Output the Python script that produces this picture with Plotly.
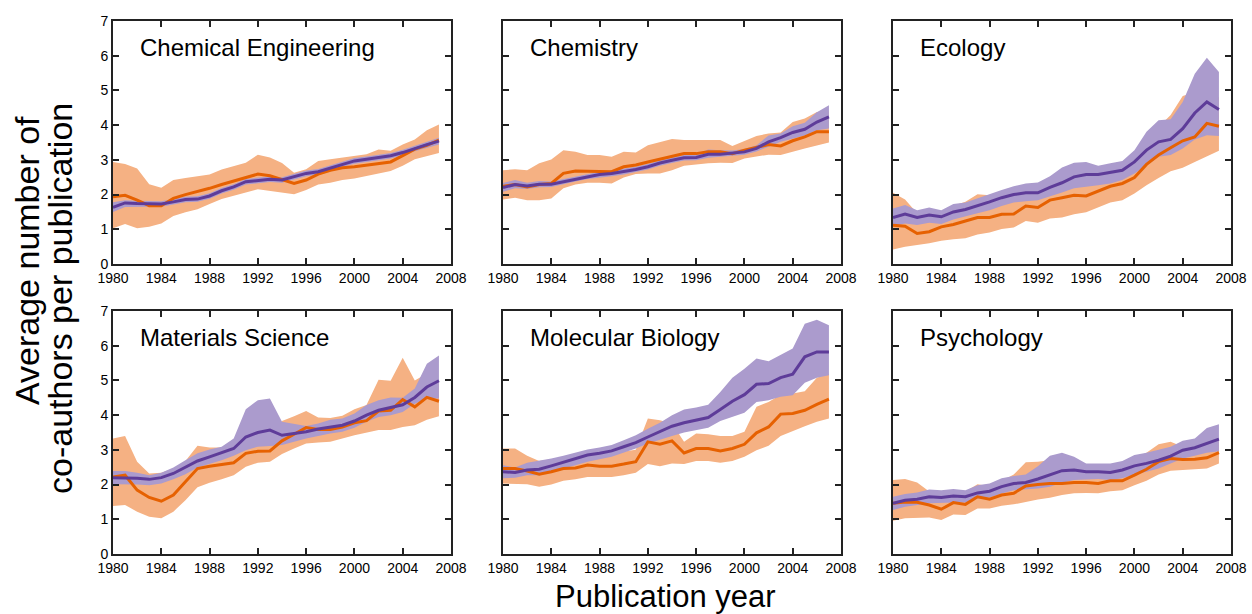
import plotly.graph_objects as go

years = list(range(1980, 2008))
x_ticks = [1980, 1984, 1988, 1992, 1996, 2000, 2004, 2008]
y_ticks = [0, 1, 2, 3, 4, 5, 6, 7]

fields = ["Chemical Engineering", "Chemistry", "Ecology",
          "Materials Science", "Molecular Biology", "Psychology"]

# --- Chemical Engineering ---
chemeng_s1 = [1.94, 1.98, 1.84, 1.68, 1.68, 1.89, 2.00, 2.08, 2.18, 2.29, 2.39, 2.48, 2.59, 2.54,
              2.44, 2.32, 2.42, 2.59, 2.70, 2.77, 2.80, 2.85, 2.90, 2.94, 3.12, 3.31, 3.42, 3.57]
chemeng_s1_hi = [2.94, 2.88, 2.75, 2.30, 2.20, 2.42, 2.48, 2.53, 2.58, 2.72, 2.83, 2.92, 3.15, 3.07,
                 2.91, 2.63, 2.73, 2.97, 3.02, 3.07, 3.12, 3.16, 3.30, 3.26, 3.44, 3.59, 3.85, 4.02]
chemeng_s1_lo = [1.03, 1.15, 1.03, 1.07, 1.17, 1.38, 1.49, 1.58, 1.73, 1.87, 1.97, 2.06, 2.15, 2.11,
                 2.06, 2.01, 2.13, 2.29, 2.34, 2.42, 2.46, 2.54, 2.61, 2.68, 2.83, 3.02, 3.11, 3.20]
chemeng_s2 = [1.63, 1.76, 1.74, 1.73, 1.73, 1.79, 1.86, 1.87, 1.96, 2.11, 2.22, 2.37, 2.40, 2.44,
              2.42, 2.51, 2.61, 2.66, 2.77, 2.88, 2.97, 3.02, 3.07, 3.12, 3.21, 3.33, 3.44, 3.54]
chemeng_s2_hi = [1.78, 1.84, 1.82, 1.81, 1.81, 1.87, 1.94, 1.95, 2.04, 2.19, 2.30, 2.45, 2.48, 2.52,
                 2.50, 2.59, 2.69, 2.74, 2.85, 2.96, 3.05, 3.10, 3.15, 3.20, 3.29, 3.41, 3.53, 3.64]
chemeng_s2_lo = [1.50, 1.64, 1.65, 1.65, 1.65, 1.71, 1.78, 1.79, 1.88, 2.03, 2.14, 2.29, 2.32, 2.36,
                 2.34, 2.43, 2.53, 2.58, 2.69, 2.80, 2.89, 2.94, 2.99, 3.04, 3.13, 3.25, 3.35, 3.44]

# --- Chemistry ---
chem_s1 = [2.24, 2.29, 2.22, 2.29, 2.32, 2.61, 2.68, 2.68, 2.67, 2.66, 2.80, 2.85, 2.94, 3.02,
           3.11, 3.18, 3.18, 3.23, 3.23, 3.18, 3.28, 3.37, 3.44, 3.40, 3.55, 3.66, 3.81, 3.81]
chem_s1_hi = [2.70, 2.73, 2.70, 2.90, 3.01, 3.28, 3.23, 3.14, 3.14, 3.09, 3.23, 3.21, 3.42, 3.52,
              3.60, 3.57, 3.57, 3.57, 3.57, 3.40, 3.55, 3.69, 3.76, 3.79, 4.09, 4.19, 4.38, 4.40]
chem_s1_lo = [1.86, 1.91, 1.84, 1.84, 1.89, 2.18, 2.29, 2.34, 2.34, 2.32, 2.49, 2.59, 2.61, 2.61,
              2.70, 2.83, 2.87, 2.90, 2.92, 2.91, 3.04, 3.09, 3.15, 3.14, 3.23, 3.33, 3.42, 3.50]
chem_s2 = [2.20, 2.29, 2.25, 2.30, 2.30, 2.37, 2.46, 2.53, 2.58, 2.61, 2.66, 2.72, 2.80, 2.91,
           2.99, 3.06, 3.07, 3.16, 3.16, 3.20, 3.23, 3.33, 3.52, 3.64, 3.79, 3.88, 4.09, 4.24]
chem_s2_hi = [2.33, 2.42, 2.34, 2.39, 2.38, 2.45, 2.54, 2.61, 2.66, 2.69, 2.74, 2.80, 2.88, 2.99,
              3.07, 3.14, 3.16, 3.30, 3.28, 3.27, 3.31, 3.42, 3.70, 3.76, 3.97, 4.07, 4.37, 4.57]
chem_s2_lo = [2.08, 2.18, 2.16, 2.21, 2.22, 2.29, 2.38, 2.45, 2.50, 2.53, 2.58, 2.64, 2.72, 2.83,
              2.91, 2.98, 2.99, 3.06, 3.07, 3.12, 3.15, 3.24, 3.38, 3.52, 3.62, 3.70, 3.85, 3.90]

# --- Ecology ---
eco_s1 = [1.12, 1.09, 0.88, 0.93, 1.07, 1.14, 1.24, 1.34, 1.34, 1.43, 1.44, 1.67, 1.63, 1.84,
          1.91, 1.98, 1.96, 2.10, 2.24, 2.32, 2.49, 2.87, 3.14, 3.35, 3.55, 3.66, 4.05, 3.97]
eco_s1_hi = [2.05, 1.86, 1.46, 1.50, 1.50, 1.68, 1.79, 2.01, 1.98, 2.00, 2.10, 2.20, 2.22, 2.35,
             2.45, 2.55, 2.60, 2.65, 2.75, 2.85, 3.10, 3.50, 3.95, 4.29, 4.84, 4.95, 5.00, 4.80]
eco_s1_lo = [0.42, 0.50, 0.55, 0.60, 0.67, 0.71, 0.74, 0.85, 0.91, 1.01, 1.05, 1.24, 1.19, 1.31,
             1.34, 1.43, 1.49, 1.63, 1.77, 1.84, 2.03, 2.27, 2.48, 2.67, 2.77, 2.94, 3.11, 3.26]
eco_s2 = [1.34, 1.44, 1.34, 1.41, 1.36, 1.50, 1.57, 1.67, 1.79, 1.91, 2.00, 2.05, 2.05, 2.21,
          2.34, 2.51, 2.58, 2.58, 2.63, 2.70, 2.94, 3.28, 3.52, 3.59, 3.90, 4.35, 4.67, 4.45]
eco_s2_hi = [1.60, 1.70, 1.55, 1.63, 1.55, 1.73, 1.77, 1.89, 2.03, 2.13, 2.24, 2.32, 2.35, 2.53,
             2.78, 2.92, 2.94, 2.83, 2.90, 2.97, 3.28, 3.81, 4.14, 4.17, 4.67, 5.48, 5.94, 5.53]
eco_s2_lo = [1.09, 1.17, 1.12, 1.19, 1.15, 1.28, 1.36, 1.46, 1.55, 1.67, 1.77, 1.81, 1.84, 1.94,
             2.06, 2.18, 2.22, 2.27, 2.32, 2.42, 2.61, 2.83, 3.09, 3.14, 3.33, 3.59, 3.71, 3.69]

# --- Materials Science ---
mat_s1 = [2.22, 2.27, 1.84, 1.63, 1.52, 1.70, 2.08, 2.46, 2.53, 2.59, 2.63, 2.90, 2.96, 2.97,
          3.26, 3.45, 3.64, 3.59, 3.59, 3.66, 3.78, 3.84, 4.12, 4.14, 4.45, 4.24, 4.51, 4.40]
mat_s1_hi = [3.33, 3.40, 2.66, 2.32, 2.34, 2.46, 2.68, 3.12, 3.07, 3.07, 3.20, 3.30, 3.40, 3.45,
             3.83, 3.97, 4.12, 3.93, 3.92, 3.98, 4.17, 4.29, 5.02, 4.99, 5.65, 5.00, 5.20, 5.00]
mat_s1_lo = [1.38, 1.41, 1.22, 1.07, 1.03, 1.22, 1.55, 1.92, 2.05, 2.15, 2.27, 2.51, 2.63, 2.66,
             2.88, 3.04, 3.18, 3.21, 3.23, 3.33, 3.42, 3.50, 3.57, 3.57, 3.66, 3.71, 3.87, 3.97]
mat_s2 = [2.20, 2.20, 2.18, 2.15, 2.20, 2.32, 2.49, 2.68, 2.80, 2.92, 3.04, 3.37, 3.50, 3.57,
          3.42, 3.47, 3.52, 3.60, 3.66, 3.71, 3.83, 4.00, 4.14, 4.22, 4.30, 4.51, 4.81, 4.99]
mat_s2_hi = [2.39, 2.39, 2.34, 2.27, 2.34, 2.49, 2.70, 2.90, 3.01, 3.09, 3.33, 4.17, 4.43, 4.48,
             3.81, 3.76, 3.69, 3.76, 3.87, 3.90, 4.05, 4.29, 4.43, 4.51, 4.50, 4.77, 5.48, 5.72]
mat_s2_lo = [2.01, 2.01, 2.00, 1.98, 2.03, 2.15, 2.30, 2.49, 2.59, 2.70, 2.83, 2.99, 3.09, 3.11,
             3.14, 3.23, 3.33, 3.40, 3.47, 3.52, 3.64, 3.81, 3.95, 4.00, 4.09, 4.33, 4.48, 4.48]

# --- Molecular Biology ---
mol_s1 = [2.46, 2.46, 2.39, 2.30, 2.37, 2.46, 2.48, 2.56, 2.53, 2.53, 2.59, 2.66, 3.23, 3.16,
          3.26, 2.91, 3.04, 3.04, 2.97, 3.04, 3.16, 3.49, 3.66, 4.03, 4.05, 4.14, 4.31, 4.46]
mol_s1_hi = [3.04, 3.04, 2.83, 2.68, 2.73, 2.80, 2.85, 2.90, 2.88, 2.90, 2.95, 3.00, 3.90, 3.85,
             3.76, 3.23, 3.47, 3.45, 3.40, 3.40, 3.52, 4.24, 4.38, 4.59, 4.62, 4.69, 5.08, 5.20]
mol_s1_lo = [2.03, 2.01, 2.01, 1.94, 2.00, 2.11, 2.15, 2.22, 2.22, 2.22, 2.27, 2.34, 2.59, 2.53,
             2.61, 2.59, 2.68, 2.68, 2.63, 2.68, 2.80, 2.99, 3.12, 3.40, 3.55, 3.68, 3.81, 3.90]
mol_s2 = [2.37, 2.35, 2.42, 2.44, 2.54, 2.64, 2.75, 2.85, 2.90, 2.97, 3.09, 3.21, 3.37, 3.52,
          3.68, 3.78, 3.85, 3.93, 4.16, 4.40, 4.59, 4.89, 4.91, 5.08, 5.18, 5.68, 5.82, 5.82]
mol_s2_hi = [2.56, 2.49, 2.63, 2.68, 2.75, 2.83, 2.92, 3.01, 3.07, 3.14, 3.28, 3.42, 3.61, 3.78,
             4.00, 4.16, 4.22, 4.30, 4.67, 5.08, 5.34, 5.63, 5.55, 5.74, 5.92, 6.63, 6.75, 6.59]
mol_s2_lo = [2.18, 2.20, 2.27, 2.27, 2.37, 2.46, 2.56, 2.66, 2.73, 2.80, 2.92, 3.04, 3.18, 3.30,
             3.40, 3.50, 3.57, 3.64, 3.83, 3.95, 4.07, 4.38, 4.43, 4.53, 4.57, 4.93, 5.08, 5.15]

# --- Psychology ---
psy_s1 = [1.46, 1.50, 1.49, 1.41, 1.29, 1.48, 1.43, 1.65, 1.58, 1.70, 1.75, 1.96, 2.00, 2.03,
          2.03, 2.06, 2.06, 2.03, 2.11, 2.11, 2.27, 2.44, 2.66, 2.75, 2.72, 2.73, 2.77, 2.92]
psy_s1_hi = [2.13, 2.16, 2.06, 1.80, 1.70, 1.80, 1.80, 2.01, 1.95, 2.10, 2.29, 2.64, 2.66, 2.70,
             2.70, 2.60, 2.50, 2.50, 2.55, 2.60, 2.75, 2.92, 3.16, 3.23, 3.09, 3.09, 3.15, 3.30]
psy_s1_lo = [0.96, 1.03, 1.03, 1.05, 0.98, 1.14, 1.12, 1.31, 1.31, 1.39, 1.43, 1.50, 1.57, 1.62,
             1.70, 1.75, 1.76, 1.75, 1.81, 1.84, 1.98, 2.11, 2.29, 2.40, 2.42, 2.44, 2.46, 2.61]
psy_s2 = [1.46, 1.55, 1.58, 1.65, 1.63, 1.67, 1.65, 1.76, 1.81, 1.94, 2.03, 2.06, 2.16, 2.29,
          2.40, 2.42, 2.37, 2.37, 2.35, 2.42, 2.54, 2.61, 2.70, 2.82, 2.99, 3.06, 3.18, 3.31]
psy_s2_hi = [1.65, 1.73, 1.77, 1.86, 1.84, 1.87, 1.84, 1.98, 2.03, 2.18, 2.25, 2.29, 2.53, 2.83,
             2.92, 2.80, 2.61, 2.61, 2.61, 2.68, 2.85, 2.92, 3.01, 3.09, 3.26, 3.33, 3.63, 3.74]
psy_s2_lo = [1.27, 1.36, 1.41, 1.46, 1.46, 1.48, 1.48, 1.60, 1.63, 1.74, 1.84, 1.86, 1.89, 1.94,
             2.05, 2.13, 2.15, 2.16, 2.13, 2.18, 2.29, 2.37, 2.46, 2.61, 2.75, 2.83, 2.92, 2.96]

panels = [
    (chemeng_s1, chemeng_s1_hi, chemeng_s1_lo, chemeng_s2, chemeng_s2_hi, chemeng_s2_lo),
    (chem_s1, chem_s1_hi, chem_s1_lo, chem_s2, chem_s2_hi, chem_s2_lo),
    (eco_s1, eco_s1_hi, eco_s1_lo, eco_s2, eco_s2_hi, eco_s2_lo),
    (mat_s1, mat_s1_hi, mat_s1_lo, mat_s2, mat_s2_hi, mat_s2_lo),
    (mol_s1, mol_s1_hi, mol_s1_lo, mol_s2, mol_s2_hi, mol_s2_lo),
    (psy_s1, psy_s1_hi, psy_s1_lo, psy_s2, psy_s2_hi, psy_s2_lo),
]

ORANGE_LINE = "#e66101"
ORANGE_FILL = "#f5b183"
PURPLE_LINE = "#5e3c99"
PURPLE_FILL = "#ab9bcd"
FRAME = "#222222"
FONT = "Liberation Sans, Arial, Helvetica, sans-serif"

W, H = 1252, 614
col_px = [(113, 451), (503, 841), (893, 1231)]
row_px = [(21, 264), (311, 554)]

fig = go.Figure()


def band(xref, yref, hi, lo, color):
    return go.Scatter(
        x=years + years[::-1], y=hi + lo[::-1], xaxis=xref, yaxis=yref,
        fill="toself", fillcolor=color, line=dict(width=0), mode="lines",
        hoverinfo="skip", showlegend=False)


def line(xref, yref, vals, color):
    return go.Scatter(
        x=years, y=vals, xaxis=xref, yaxis=yref, mode="lines",
        line=dict(color=color, width=3), showlegend=False)


layout = dict(
    template="none",
    width=W, height=H, margin=dict(l=0, r=0, t=0, b=0, autoexpand=False),
    paper_bgcolor="white", plot_bgcolor="white",
    font=dict(family=FONT, size=14, color="black"),
    showlegend=False, annotations=[],
)

for i, (name, data) in enumerate(zip(fields, panels)):
    r, c = divmod(i, 3)
    k = "" if i == 0 else str(i + 1)
    xref, yref = "x" + k, "y" + k
    s1, s1_hi, s1_lo, s2, s2_hi, s2_lo = data

    fig.add_trace(band(xref, yref, s1_hi, s1_lo, ORANGE_FILL))
    fig.add_trace(band(xref, yref, s2_hi, s2_lo, PURPLE_FILL))
    fig.add_trace(line(xref, yref, s1, ORANGE_LINE))
    fig.add_trace(line(xref, yref, s2, PURPLE_LINE))

    x0, x1 = col_px[c]
    yt, yb = row_px[r]
    axis_common = dict(
        showline=True, linecolor=FRAME, linewidth=2, mirror="ticks",
        ticks="inside", ticklen=6, tickwidth=1.5, tickcolor=FRAME,
        showgrid=False, zeroline=False, fixedrange=True, automargin=False,
        tickfont=dict(family=FONT, size=14, color="black"),
    )
    layout["xaxis" + k] = dict(
        axis_common, domain=[x0 / W, x1 / W], range=[1980, 2008],
        tickvals=x_ticks, ticktext=[str(v) for v in x_ticks],
        anchor=yref,
    )
    layout["yaxis" + k] = dict(
        axis_common, domain=[1 - yb / H, 1 - yt / H], range=[0, 7],
        tickvals=y_ticks, showticklabels=(c == 0), anchor=xref,
    )
    layout["annotations"].append(dict(
        text=name, xref=xref + " domain", yref=yref + " domain",
        x=25 / (x1 - x0), y=1 - 26 / (yb - yt), xanchor="left", yanchor="middle",
        showarrow=False, font=dict(family=FONT, size=24, color="black"),
    ))

# Shared axis titles
layout["annotations"].append(dict(
    text="Publication year", xref="paper", yref="paper",
    x=665 / W, y=1 - 596 / H, xanchor="center", yanchor="middle",
    showarrow=False, font=dict(family=FONT, size=31, color="black"),
))
layout["annotations"].append(dict(
    text="Average number of", xref="paper", yref="paper",
    x=27 / W, y=1 - 261 / H, xanchor="center", yanchor="middle", textangle=-90,
    showarrow=False, font=dict(family=FONT, size=34, color="black"),
))
layout["annotations"].append(dict(
    text="co-authors per publication", xref="paper", yref="paper",
    x=60 / W, y=1 - 299 / H, xanchor="center", yanchor="middle", textangle=-90,
    showarrow=False, font=dict(family=FONT, size=34, color="black"),
))

fig.update_layout(**layout)
fig.write_html("out.html")
